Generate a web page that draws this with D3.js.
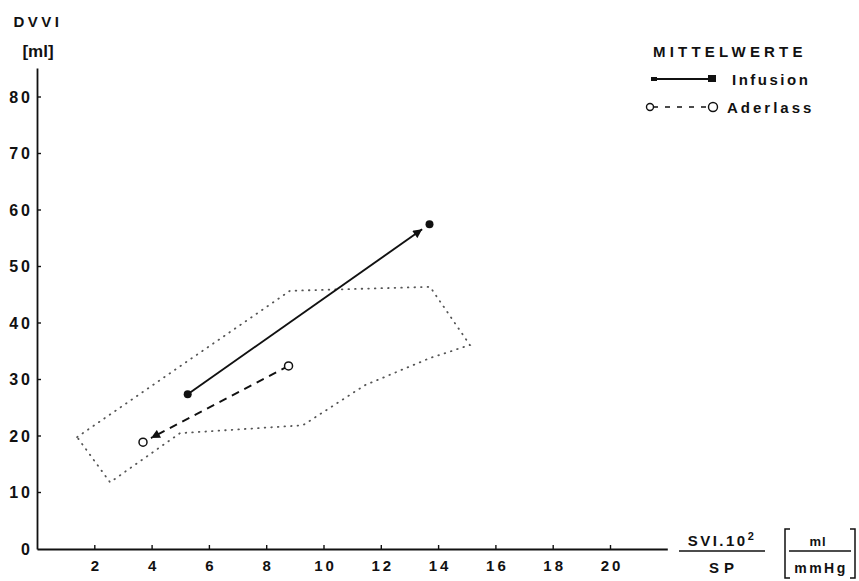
<!DOCTYPE html>
<html>
<head>
<meta charset="utf-8">
<script src="https://cdn.jsdelivr.net/npm/d3@7"></script>
<style>
  body { margin: 0; background: #fff; }
  svg { display: block; }
  text { font-family: "Liberation Sans", "DejaVu Sans", sans-serif; font-weight: bold; fill: #111; }
</style>
</head>
<body>
<svg id="chart" width="859" height="581"></svg>
<script>
// Mean values (start → end) of each intervention
const infusion = [ { x: 5.26, y: 27.4 }, { x: 13.7, y: 57.5 } ];
const aderlass = [ { x: 8.78, y: 32.4 }, { x: 3.7, y: 18.9 } ];

// Envelope of individual values (dotted outline)
const envelope = [
  { x: 1.4, y: 19.8 }, { x: 8.83, y: 45.7 }, { x: 13.72, y: 46.4 },
  { x: 15.11, y: 36.1 }, { x: 13.72, y: 33.8 }, { x: 11.45, y: 29.0 },
  { x: 9.28, y: 21.9 }, { x: 4.99, y: 20.5 }, { x: 2.55, y: 11.8 }
];

const xTicks = [2, 4, 6, 8, 10, 12, 14, 16, 18, 20];
const yTicks = [0, 10, 20, 30, 40, 50, 60, 70, 80];

const svg = d3.select("#chart");

const x = d3.scaleLinear().domain([0, 22]).range([37, 667.3]);
const y = d3.scaleLinear().domain([0, 80]).range([549, 97]);

const ink = "#111";

// Axes
const xAxis = svg.append("g").attr("transform", `translate(0,${y(0)})`)
  .call(d3.axisBottom(x).tickValues(xTicks).tickSize(-4).tickSizeOuter(0));
xAxis.attr("font-size", null).attr("font-family", null);
xAxis.select(".domain").attr("stroke", ink).attr("stroke-width", 1.8);
xAxis.selectAll(".tick line").attr("stroke", ink).attr("stroke-width", 1.4);
xAxis.selectAll(".tick text").attr("font-size", 15)
  .attr("y", 22).attr("dy", 0).attr("letter-spacing", 3).attr("dx", 1.5);

const yAxis = svg.append("g").attr("transform", `translate(${x(0)},0)`)
  .call(d3.axisLeft(y.copy().domain([0, 85.2]).range([549, 68])).tickValues([]).tickSizeOuter(0));
yAxis.select(".domain").attr("stroke", ink).attr("stroke-width", 1.8);

const yt = svg.append("g").selectAll("g").data(yTicks).join("g")
  .attr("transform", d => `translate(${x(0)},${y(d)})`);
yt.filter(d => d > 0).append("line").attr("x1", 0).attr("x2", 4).attr("stroke", ink).attr("stroke-width", 1.4);
yt.append("text").attr("x", -4).attr("dy", "0.36em").attr("text-anchor", "end")
  .attr("font-size", 16).attr("letter-spacing", 3).text(d => d);

// Axis titles
svg.append("text").attr("x", 38).attr("y", 27).attr("text-anchor", "middle")
  .attr("font-size", 15).attr("letter-spacing", 3.5).text("DVVI");
svg.append("text").attr("x", 38).attr("y", 57).attr("text-anchor", "middle")
  .attr("font-size", 17).attr("font-weight", "normal").text("[ml]");

const xt = svg.append("g");
const svi = xt.append("text").attr("x", 722).attr("y", 546).attr("text-anchor", "middle")
  .attr("font-size", 15).attr("letter-spacing", 2.5);
svi.append("tspan").text("SVI.10");
svi.append("tspan").attr("font-size", 11).attr("dy", -6).text("2");
xt.append("line").attr("x1", 679).attr("x2", 765).attr("y1", 551).attr("y2", 551).attr("stroke", ink).attr("stroke-width", 1.4);
xt.append("text").attr("x", 724).attr("y", 573).attr("text-anchor", "middle")
  .attr("font-size", 15).attr("letter-spacing", 5).text("SP");

xt.append("text").attr("x", 818).attr("y", 546).attr("text-anchor", "middle")
  .attr("font-size", 13).attr("letter-spacing", 1).text("ml");
xt.append("line").attr("x1", 789).attr("x2", 851).attr("y1", 551).attr("y2", 551).attr("stroke", ink).attr("stroke-width", 1.3);
xt.append("text").attr("x", 821).attr("y", 573).attr("text-anchor", "middle")
  .attr("font-size", 14).attr("letter-spacing", 2.5).text("mmHg");
xt.append("path").attr("d", "M790,529 H785 V578 H790").attr("fill", "none").attr("stroke", ink).attr("stroke-width", 1.5);
xt.append("path").attr("d", "M850,529 H855 V578 H850").attr("fill", "none").attr("stroke", ink).attr("stroke-width", 1.5);

// Envelope outline
svg.append("path")
  .attr("d", d3.line().x(d => x(d.x)).y(d => y(d.y))(envelope) + "Z")
  .attr("fill", "none").attr("stroke", "#555").attr("stroke-width", 1.8)
  .attr("stroke-dasharray", "0.6,6").attr("stroke-linecap", "round");

// Arrowhead
svg.append("defs").append("marker").attr("id", "arrow")
  .attr("viewBox", "0 0 10 10").attr("refX", 10).attr("refY", 5)
  .attr("markerWidth", 10).attr("markerHeight", 9).attr("markerUnits", "userSpaceOnUse")
  .attr("orient", "auto")
  .append("path").attr("d", "M0,0 L10,5 L0,10 Z").attr("fill", ink);

function shorten(a, b, gap) {
  const x1 = x(a.x), y1 = y(a.y), x2 = x(b.x), y2 = y(b.y);
  const len = Math.hypot(x2 - x1, y2 - y1);
  return { x1, y1, x2: x2 - (x2 - x1) * gap / len, y2: y2 - (y2 - y1) * gap / len };
}

// Infusion
const inf = shorten(infusion[0], infusion[1], 9);
svg.append("line").attr("x1", inf.x1).attr("y1", inf.y1).attr("x2", inf.x2).attr("y2", inf.y2)
  .attr("stroke", ink).attr("stroke-width", 1.9).attr("marker-end", "url(#arrow)");
svg.append("g").selectAll("circle").data(infusion).join("circle")
  .attr("cx", d => x(d.x)).attr("cy", d => y(d.y)).attr("r", 4).attr("fill", ink);

// Aderlass
const ad = shorten(aderlass[0], aderlass[1], 9);
svg.append("line").attr("x1", ad.x1).attr("y1", ad.y1).attr("x2", ad.x2).attr("y2", ad.y2)
  .attr("stroke", ink).attr("stroke-width", 1.9).attr("stroke-dasharray", "8,6")
  .attr("marker-end", "url(#arrow)");
svg.append("g").selectAll("circle").data(aderlass).join("circle")
  .attr("cx", d => x(d.x)).attr("cy", d => y(d.y)).attr("r", 4)
  .attr("fill", "#fff").attr("stroke", ink).attr("stroke-width", 1.5);

// Legend
const lg = svg.append("g");
lg.append("text").attr("x", 653).attr("y", 57)
  .attr("font-size", 15).attr("letter-spacing", 4.2).text("MITTELWERTE");
lg.append("line").attr("x1", 654).attr("x2", 710).attr("y1", 79).attr("y2", 79).attr("stroke", ink).attr("stroke-width", 1.8);
lg.append("rect").attr("x", 651).attr("y", 77).attr("width", 6).attr("height", 4).attr("fill", ink);
lg.append("rect").attr("x", 708).attr("y", 75).attr("width", 8).attr("height", 7).attr("fill", ink);
lg.append("text").attr("x", 732).attr("y", 85).attr("font-size", 15).attr("letter-spacing", 2.5).text("Infusion");
lg.append("line").attr("x1", 653).attr("x2", 709).attr("y1", 107).attr("y2", 107).attr("stroke", ink).attr("stroke-width", 1.6).attr("stroke-dasharray", "5,7");
lg.append("circle").attr("cx", 650).attr("cy", 107).attr("r", 3.5).attr("fill", "#fff").attr("stroke", ink).attr("stroke-width", 1.4);
lg.append("circle").attr("cx", 713).attr("cy", 107).attr("r", 4.5).attr("fill", "#fff").attr("stroke", ink).attr("stroke-width", 1.4);
lg.append("text").attr("x", 727).attr("y", 113).attr("font-size", 15).attr("letter-spacing", 3).text("Aderlass");
</script>
</body>
</html>
